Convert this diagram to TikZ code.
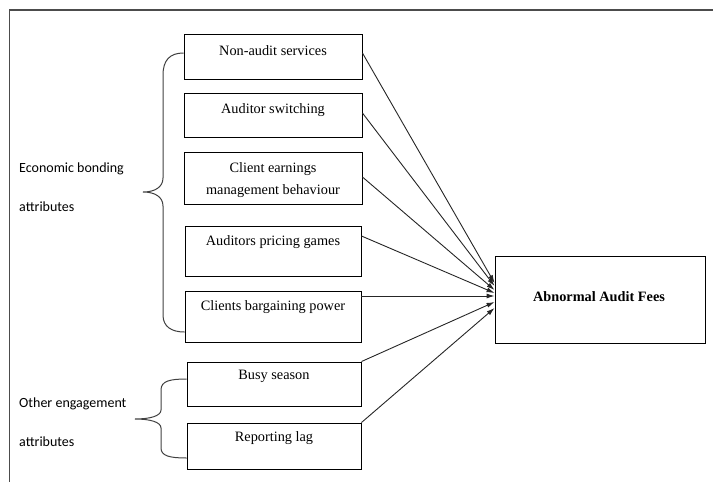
\documentclass[tikz,border=0pt]{standalone}
\usepackage{fontspec}
\setmainfont{Liberation Serif}
\newfontfamily\calib{Carlito}
\usetikzlibrary{arrows.meta}
\begin{document}
\begin{tikzpicture}[x=1pt,y=-1pt,
 box/.style={draw=black, line width=0.9pt, inner sep=0pt},
 txt/.style={inner sep=0pt, font=\fontsize{14.3}{22}\selectfont, align=center},
 bold/.style={inner sep=0pt, font=\bfseries\fontsize{14.3}{17}\selectfont},
 side/.style={inner sep=0pt, anchor=west, font=\calib\fontsize{14}{17}\selectfont},
 conn/.style={draw=black!85, line width=0.9pt, -{Latex[length=8pt,width=5pt]}},
 brc/.style={draw=black!75, line width=1pt},
 frm/.style={draw=black!70, line width=1.4pt},
]
\useasboundingbox (0,0) rectangle (713,482);
% frame
\draw[frm] (713,10) -- (9.5,10) -- (9.5,482);

% boxes
\node[box, minimum width=178pt, minimum height=45pt] (b1) at (273,56.5) {};
\node[box, minimum width=178pt, minimum height=44pt] (b2) at (273,115) {};
\node[box, minimum width=178pt, minimum height=52pt] (b3) at (273,178) {};
\node[box, minimum width=176pt, minimum height=50pt] (b4) at (273,251) {};
\node[box, minimum width=176pt, minimum height=51pt] (b5) at (273,316.5) {};
\node[box, minimum width=174pt, minimum height=44pt] (b6) at (274,384) {};
\node[box, minimum width=174pt, minimum height=46pt] (b7) at (274,446) {};
\node[box, minimum width=210pt, minimum height=87pt] (t) at (600,299.5) {};

% box texts
\node[txt] (l1) at (273,51) {Non-audit services};
\node[txt] (l2) at (273,110) {Auditor switching};
\node[txt] (l3) at (273,180) {Client earnings\\management behaviour};
\node[txt] (l4) at (273,242) {Auditors pricing games};
\node[txt] (l5) at (273,307) {Clients bargaining power};
\node[txt] (l6) at (274,376) {Busy season};
\node[txt] (l7) at (274,438) {Reporting lag};
\node[bold] (lt) at (599,297) {Abnormal Audit Fees};

% side labels
\node[side] (s1) at (19,169) {Economic bonding};
\node[side] (s2) at (19,207) {attributes};
\node[side] (s3) at (19,404) {Other engagement};
\node[side] (s4) at (19,442) {attributes};

% braces
\draw[brc] ([yshift=3.5pt]b1.west) .. controls (170,53) and (163,60) .. (163,75)
  -- (163,178) .. controls (163,187) and (155,192) .. (143,192)
  .. controls (155,192) and (163,197) .. (163,206)
  -- (163,315) .. controls (163,327) and (172,332) .. ([yshift=-15.5pt]b5.west);
\draw[brc] ([yshift=5pt]b6.west) .. controls (170,379) and (161,381) .. (161,390)
  -- (161,410) .. controls (161,416) and (150,419) .. (135,419)
  .. controls (150,419) and (161,422) .. (161,428)
  -- (161,448) .. controls (161,456) and (170,458) .. ([yshift=-12pt]b7.west);

% connectors
\draw[conn] ([yshift=3.5pt]b1.east) -- ([yshift=16.5pt]t.west);
\draw[conn] ([yshift=2pt]b2.east) -- ([yshift=13.5pt]t.west);
\draw[conn] ([yshift=1pt]b3.east) -- ([yshift=9.5pt]t.west);
\draw[conn] ([yshift=15pt]b4.east) -- ([yshift=6.5pt]t.west);
\draw[conn] ([yshift=20.5pt]b5.east) -- ([yshift=3.5pt]t.west);
\draw[conn] (b6.north east) -- ([yshift=-2.5pt]t.west);
\draw[conn] (b7.north east) -- ([yshift=-8.5pt]t.west);
\end{tikzpicture}
\end{document}
